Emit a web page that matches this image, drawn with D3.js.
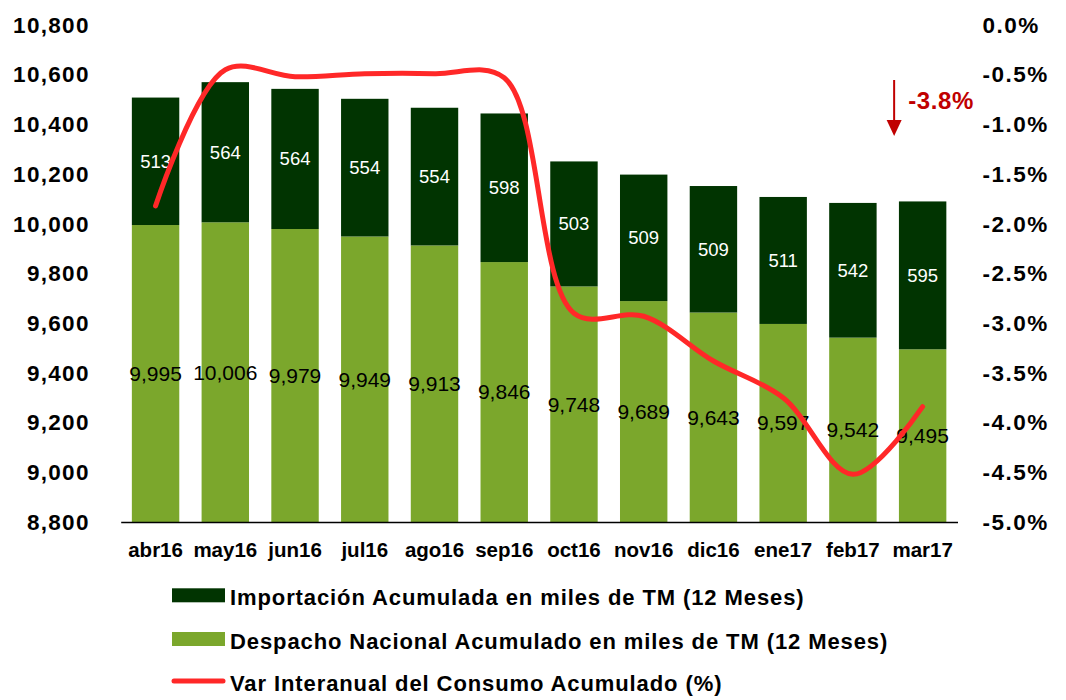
<!DOCTYPE html>
<html>
<head>
<meta charset="utf-8">
<script src="https://cdn.jsdelivr.net/npm/d3@7"></script>
<style>
    body { margin: 0; background: #fff; }
    svg { display: block; font-family: "Liberation Sans", Arial, sans-serif; }
</style>
</head>
<body>
<svg id="chart" width="1066" height="700"></svg>
<script>
const months = ["abr16", "may16", "jun16", "jul16", "ago16", "sep16", "oct16", "nov16", "dic16", "ene17", "feb17", "mar17"];
const despacho = [9995, 10006, 9979, 9949, 9913, 9846, 9748, 9689, 9643, 9597, 9542, 9495];
const importacion = [513, 564, 564, 554, 554, 598, 503, 509, 509, 511, 542, 595];
const variacion = [-1.82, -0.45, -0.52, -0.49, -0.49, -0.53, -2.9, -2.93, -3.38, -3.75, -4.52, -3.84];
const leftTicks = [8800, 9000, 9200, 9400, 9600, 9800, 10000, 10200, 10400, 10600, 10800];
const rightTicks = [-5, -4.5, -4, -3.5, -3, -2.5, -2, -1.5, -1, -0.5, 0];
const legendLabels = [
    "Importación Acumulada en miles de TM (12 Meses)",
    "Despacho Nacional Acumulado en miles de TM (12 Meses)",
    "Var Interanual del Consumo Acumulado (%)"
];

const darkGreen = "#013401";
const lightGreen = "#7ba72c";
const red = "#ff2828";

const svg = d3.select("#chart");
const plotLeft = 120.7, plotRight = 957.5, plotTop = 25, plotBottom = 522;

const x = d3.scaleBand().domain(months).range([plotLeft, plotRight]).paddingInner(0.32).paddingOuter(0.16);
const y = d3.scaleLinear().domain([8800, 10800]).range([plotBottom, plotTop]);
const yR = d3.scaleLinear().domain([-5, 0]).range([plotBottom, plotTop]);

const data = months.map((m, i) => ({
    month: m,
    base: despacho[i],
    imp: importacion[i],
    pct: variacion[i]
}));

// bars
const bars = svg.append("g");
bars.selectAll(".base").data(data).enter().append("rect")
    .attr("x", d => x(d.month)).attr("width", x.bandwidth())
    .attr("y", d => y(d.base)).attr("height", d => y(8800) - y(d.base))
    .attr("fill", lightGreen);
bars.selectAll(".imp").data(data).enter().append("rect")
    .attr("x", d => x(d.month)).attr("width", x.bandwidth())
    .attr("y", d => y(d.base + d.imp)).attr("height", d => y(d.base) - y(d.base + d.imp))
    .attr("fill", darkGreen);

// labels
const fmt = d3.format(",");
svg.append("g").selectAll("text").data(data).enter().append("text")
    .attr("x", d => x(d.month) + x.bandwidth() / 2)
    .attr("y", d => (y(d.base) + y(8800)) / 2)
    .attr("dy", "0.35em").attr("text-anchor", "middle")
    .attr("font-size", 21).attr("fill", "#000")
    .text(d => fmt(d.base));
svg.append("g").selectAll("text").data(data).enter().append("text")
    .attr("x", d => x(d.month) + x.bandwidth() / 2)
    .attr("y", d => (y(d.base) + y(d.base + d.imp)) / 2)
    .attr("dy", "0.35em").attr("text-anchor", "middle")
    .attr("font-size", 18.5).attr("fill", "#fff")
    .text(d => d.imp);

// axes
const yAxis = svg.append("g").attr("transform", `translate(${plotLeft},0)`)
    .call(d3.axisLeft(y).tickValues(leftTicks).tickFormat(fmt).tickSize(0).tickPadding(31));
yAxis.select(".domain").remove();
yAxis.selectAll("text").attr("font-size", 22.5).attr("font-weight", "bold")
    .attr("font-family", "Liberation Sans, Arial, sans-serif").attr("letter-spacing", 1.3).attr("fill", "#000");

const yAxisR = svg.append("g").attr("transform", `translate(${plotRight},0)`)
    .call(d3.axisRight(yR).tickValues(rightTicks).tickFormat(d => d.toFixed(1) + "%").tickSize(0).tickPadding(25));
yAxisR.select(".domain").remove();
yAxisR.selectAll("text").attr("font-size", 22.5).attr("font-weight", "bold")
    .attr("font-family", "Liberation Sans, Arial, sans-serif").attr("letter-spacing", 1.5).attr("fill", "#000");

const xAxis = svg.append("g").attr("transform", `translate(0,${plotBottom})`)
    .call(d3.axisBottom(x).tickSize(0));
xAxis.select(".domain").attr("stroke", "#000").attr("stroke-width", 1.5);
xAxis.selectAll("text").attr("y", 34.7).attr("dy", null)
    .attr("font-size", 20.5).attr("font-weight", "bold")
    .attr("font-family", "Liberation Sans, Arial, sans-serif").attr("fill", "#000");

// line
const line = d3.line()
    .x(d => x(d.month) + x.bandwidth() / 2)
    .y(d => yR(d.pct))
    .curve(d3.curveCatmullRom.alpha(0.5));
svg.append("path").datum(data)
    .attr("d", line).attr("fill", "none")
    .attr("stroke", red).attr("stroke-width", 5)
    .attr("stroke-linecap", "round").attr("stroke-linejoin", "round");

// annotation
const annRed = "#c00000";
const ax = x("mar17") + x.bandwidth() / 2 - 28.5;
svg.append("line").attr("x1", ax).attr("x2", ax).attr("y1", 80).attr("y2", 122)
    .attr("stroke", annRed).attr("stroke-width", 2);
svg.append("path").attr("d", `M${ax - 7.5},120L${ax + 7.5},120L${ax},136Z`).attr("fill", annRed);
svg.append("text").attr("x", ax + 14).attr("y", 101).attr("dy", "0.35em")
    .attr("font-size", 24).attr("font-weight", "bold").attr("letter-spacing", 0.6)
    .attr("fill", annRed).text(variacion[variacion.length - 1].toFixed(1) + "%");

// legend
const legend = svg.append("g");
const rows = [595.3, 639, 681];
legendLabels.forEach((label, i) => {
    if (i < 2) {
        legend.append("rect").attr("x", 172).attr("y", rows[i] - 7).attr("width", 53).attr("height", 14)
            .attr("fill", i === 0 ? darkGreen : lightGreen);
    } else {
        legend.append("line").attr("x1", 174).attr("x2", 223).attr("y1", rows[i]).attr("y2", rows[i])
            .attr("stroke", red).attr("stroke-width", 5).attr("stroke-linecap", "round");
    }
    legend.append("text").attr("x", 230).attr("y", rows[i] + 9.5)
        .attr("font-size", 22).attr("font-weight", "bold").attr("letter-spacing", 0.9)
        .attr("fill", "#000").text(label);
});
</script>
</body>
</html>
